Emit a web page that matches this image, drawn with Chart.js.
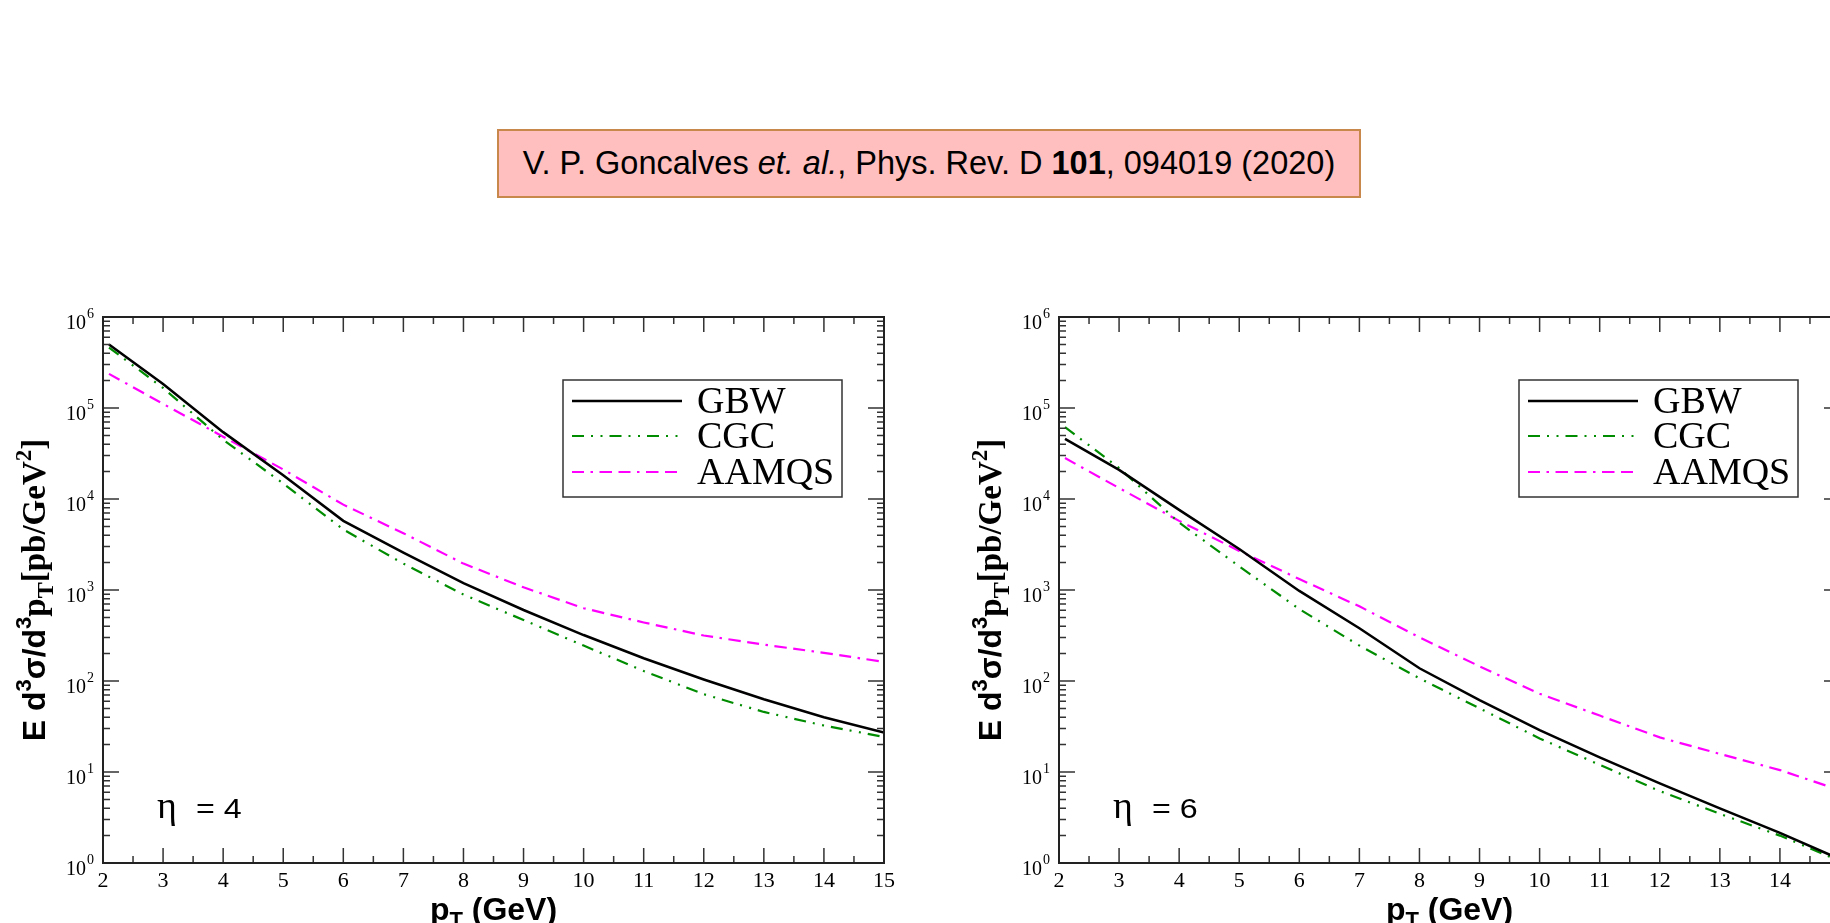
<!DOCTYPE html>
<html>
<head>
<meta charset="utf-8">
<script src="https://cdn.jsdelivr.net/npm/chart.js@4.4.1/dist/chart.umd.min.js"></script>
<style>
html, body { margin: 0; padding: 0; background: #fff; width: 1830px; height: 923px; overflow: hidden; }
#ref {
    position: absolute; left: 497px; top: 129px; width: 860px; height: 65px;
    background: #ffbfbf; border: 2px solid #c8874b;
    font: 32.5px "Liberation Sans", Arial, sans-serif; line-height: 65px;
    text-align: center; color: #000; white-space: nowrap;
}
canvas { position: absolute; top: 0; }
#c1 { left: 0; }
#c2 { left: 956px; }
</style>
</head>
<body>
<div id="ref">V. P. Goncalves <i>et. al.</i>, Phys. Rev. D <b>101</b>, 094019 (2020)</div>
<canvas id="c1" width="960" height="923"></canvas>
<canvas id="c2" width="960" height="923"></canvas>
<script>
// pT values (GeV)
const pt = [2.1, 3, 4, 5, 6, 7, 8, 9, 10, 11, 12, 13, 14, 15];

// eta = 4
const gbwEta4   = [5.0e5, 1.84e5, 5.43e4, 1.82e4, 5750, 2570, 1190, 603, 320, 178, 104, 63, 40, 27.2];
const cgcEta4   = [4.62e5, 1.66e5, 4.47e4, 1.48e4, 4620, 1950, 891, 468, 245, 129, 71.6, 45.7, 32.4, 24.3];
const aamqsEta4 = [2.37e5, 1.11e5, 4.84e4, 2.11e4, 8670, 4210, 1950, 1070, 631, 440, 316, 251, 204, 162];

// eta = 6
const gbwEta6   = [45700, 20900, 7590, 2820, 977, 380, 138, 61.7, 28.8, 14.5, 7.5, 3.98, 2.14, 1.10];
const cgcEta6   = [61700, 21900, 5500, 1820, 617, 245, 107, 50.1, 23.4, 12.0, 6.17, 3.47, 2.0, 1.05];
const aamqsEta6 = [28200, 13200, 5750, 2690, 1320, 661, 302, 145, 72.4, 41.7, 24.0, 15.8, 10.5, 6.3];

const seriesNames  = ['GBW', 'CGC', 'AAMQS'];
const seriesColors = ['#000000', '#008c00', '#ff00ff'];
const seriesDash   = [[], [12, 7, 2, 7.5, 2, 7], [12, 6.5, 2.5, 6.5, 12.5, 6.5]];
const seriesWidth  = [2.5, 2.2, 2.2];

const xTicks = [2, 3, 4, 5, 6, 7, 8, 9, 10, 11, 12, 13, 14, 15];
const yExponents = [0, 1, 2, 3, 4, 5, 6];

const SERIF = '"Liberation Serif", "Times New Roman", serif';
const SANS = '"Liberation Sans", Arial, sans-serif';

function drawRuns(ctx, parts, x, y) {
    let w = 0;
    parts.forEach(p => { ctx.font = p.font; p.w = ctx.measureText(p.t).width; w += p.w; });
    let cx = x - w / 2;
    parts.forEach(p => {
        ctx.font = p.font;
        ctx.fillText(p.t, cx, y + (p.dy || 0));
        cx += p.w;
    });
}

const decorPlugin = {
    id: 'decor',
    afterDatasetsDraw(chart, args, opts) {
        const ctx = chart.ctx;
        const a = chart.chartArea;
        const xs = chart.scales.x, ys = chart.scales.y;
        ctx.save();

        // ticks, all pointing inward, mirrored on top and right
        ctx.strokeStyle = '#333';
        ctx.lineWidth = 1.5;
        ctx.beginPath();
        for (let v = xTicks[0]; v <= xTicks[xTicks.length - 1] + 0.001; v += 0.5) {
            const px = xs.getPixelForValue(v);
            const len = Number.isInteger(v) ? 15 : 7;
            ctx.moveTo(px, a.bottom); ctx.lineTo(px, a.bottom - len);
            ctx.moveTo(px, a.top); ctx.lineTo(px, a.top + len);
        }
        yExponents.forEach(e => {
            const top = e === yExponents[yExponents.length - 1] ? 1 : 9;
            for (let m = 1; m <= top; m++) {
                const py = ys.getPixelForValue(m * Math.pow(10, e));
                const len = m === 1 ? 16 : 7;
                ctx.moveTo(a.left, py); ctx.lineTo(a.left + len, py);
                ctx.moveTo(a.right, py); ctx.lineTo(a.right - len, py);
            }
        });
        ctx.stroke();

        // frame
        ctx.strokeStyle = '#222';
        ctx.lineWidth = 2;
        ctx.strokeRect(a.left, a.top, a.right - a.left, a.bottom - a.top);

        // tick labels
        ctx.fillStyle = '#000';
        ctx.textBaseline = 'alphabetic';
        ctx.textAlign = 'center';
        ctx.font = '22px ' + SERIF;
        xTicks.forEach(v => ctx.fillText(String(v), xs.getPixelForValue(v), a.bottom + 24));
        yExponents.forEach(e => {
            const py = ys.getPixelForValue(Math.pow(10, e));
            ctx.textAlign = 'right';
            ctx.font = '20px ' + SERIF;
            ctx.fillText('10', a.left - 17, py + 12);
            ctx.textAlign = 'left';
            ctx.font = '14px ' + SERIF;
            ctx.fillText(String(e), a.left - 16, py + 1);
        });

        // x axis title
        ctx.textAlign = 'left';
        const cx = (a.left + a.right) / 2;
        drawRuns(ctx, [
            {t: 'p', font: 'bold 32px ' + SANS},
            {t: 'T', font: 'bold 22px ' + SANS, dy: 7},
            {t: ' (GeV)', font: 'bold 32px ' + SANS}
        ], cx, a.bottom + 57);

        // y axis title
        ctx.save();
        ctx.translate(a.left - 58, (a.top + a.bottom) / 2);
        ctx.rotate(-Math.PI / 2);
        drawRuns(ctx, [
            {t: 'E d', font: 'bold 32px ' + SANS},
            {t: '3', font: 'bold 22px ' + SANS, dy: -14},
            {t: 'σ/d', font: 'bold 32px ' + SANS},
            {t: '3', font: 'bold 22px ' + SANS, dy: -14},
            {t: 'p', font: 'bold 33px ' + SERIF},
            {t: 'T', font: 'bold 24px ' + SERIF, dy: 8},
            {t: '[pb/GeV', font: 'bold 33px ' + SERIF},
            {t: '2', font: 'bold 23px ' + SERIF, dy: -14},
            {t: ']', font: 'bold 33px ' + SERIF}
        ], 0, 0);
        ctx.restore();

        // eta label
        ctx.font = '38px ' + SERIF;
        ctx.fillText('η', a.left + 54, a.bottom - 45);
        ctx.save();
        ctx.translate(a.left + 93, a.bottom - 45);
        ctx.scale(1.15, 1);
        ctx.font = '28px ' + SANS;
        ctx.fillText('= ' + opts.eta, 0, 0);
        ctx.restore();

        // legend box
        const bx = a.left + 460, by = a.top + 63, bw = 279, bh = 117;
        ctx.fillStyle = '#fff';
        ctx.fillRect(bx, by, bw, bh);
        ctx.strokeStyle = '#333';
        ctx.lineWidth = 1.5;
        ctx.strokeRect(bx, by, bw, bh);
        const rows = [21, 56, 92];
        chart.data.datasets.forEach((ds, i) => {
            const ry = by + rows[i];
            ctx.strokeStyle = ds.borderColor;
            ctx.lineWidth = ds.borderWidth;
            ctx.setLineDash(ds.borderDash);
            ctx.beginPath();
            ctx.moveTo(bx + 9, ry); ctx.lineTo(bx + 119, ry);
            ctx.stroke();
            ctx.setLineDash([]);
            ctx.fillStyle = '#000';
            ctx.font = '38px ' + SERIF;
            ctx.fillText(ds.label, bx + 134, ry + 12);
        });
        ctx.restore();
    }
};

function makeChart(id, eta, series) {
    const datasets = series.map((vals, i) => ({
        label: seriesNames[i],
        data: pt.map((x, j) => ({x: x, y: vals[j]})),
        borderColor: seriesColors[i],
        borderDash: seriesDash[i],
        borderWidth: seriesWidth[i],
        pointRadius: 0,
        tension: 0,
        fill: false
    }));
    new Chart(document.getElementById(id), {
        type: 'line',
        data: {datasets: datasets},
        options: {
            responsive: false,
            animation: false,
            devicePixelRatio: 1,
            layout: {padding: {left: 103, top: 317, right: 76, bottom: 60}},
            plugins: {legend: {display: false}, tooltip: {enabled: false}, decor: {eta: eta}},
            scales: {
                x: {type: 'linear', min: 2, max: 15, display: false},
                y: {type: 'logarithmic', min: 1, max: 1e6, display: false}
            }
        },
        plugins: [decorPlugin]
    });
}

makeChart('c1', 4, [gbwEta4, cgcEta4, aamqsEta4]);
makeChart('c2', 6, [gbwEta6, cgcEta6, aamqsEta6]);
</script>
</body>
</html>
